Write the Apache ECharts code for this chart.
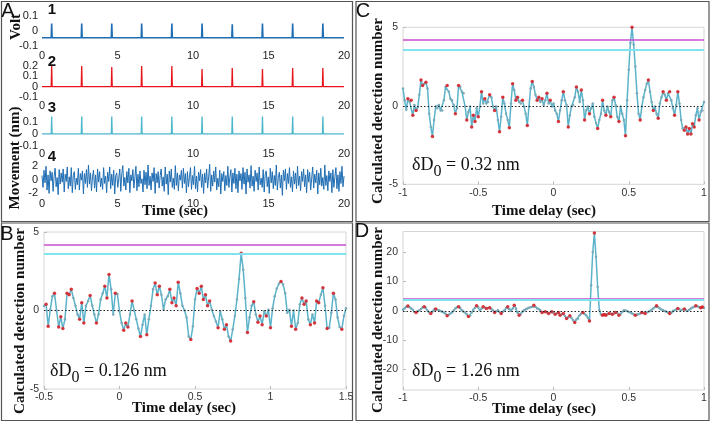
<!DOCTYPE html>
<html>
<head>
<meta charset="utf-8">
<script src="https://cdn.jsdelivr.net/npm/echarts@6/dist/echarts.min.js"></script>
<style>
  html, body { margin: 0; padding: 0; background: #fff; }
  #chart { width: 711px; height: 422px; }
</style>
</head>
<body>
<div id="chart"></div>
<script>
// ---- data ----
const spikeTimes = [0.64, 2.63, 4.62, 6.6, 8.6, 10.6, 12.6, 14.6, 16.6, 18.6]
const volt1Base = -0.045
const volt1Peaks = [0.05, 0.05, 0.05, 0.05, 0.05, 0.05, 0.045, 0.05, 0.05, 0.05]
const volt2Peaks = [0.2, 0.2, 0.19, 0.2, 0.2, 0.17, 0.18, 0.17, 0.18, 0.18]
const volt3Peaks = [0.15, 0.15, 0.15, 0.15, 0.15, 0.15, 0.15, 0.15, 0.15, 0.15]

// y ranges and tick labels of the four panel-A traces
const aRanges = [[-0.1, 0.1], [-0.1, 0.2], [-0.1, 0.15], [-2.5, 2.5]]
const aTicks = [[-0.1, 0, 0.1], [-0.1, 0, 0.1, 0.2], [-0.1, 0, 0.1], [-2, 0, 2]]

const movement = [
  0.6,-1.2,1.4,-0.5,2.0,-1.6,0.7,-2.1,1.3,-0.2,1.1,-1.8,0.5,1.7,-1.1,0.3,-2.3,1.5,-0.7,1.0,
  -0.4,1.6,-1.9,0.8,-0.3,1.9,-1.4,0.4,-1.0,1.8,-2.0,0.6,1.2,-1.5,0.2,-0.8,1.7,-1.6,0.9,-0.1,
  1.3,-2.2,0.9,-0.6,1.5,-1.2,2.2,-0.7,1.0,-1.7,0.4,1.4,-1.3,0.7,-1.9,1.6,-0.4,1.2,-1.1,0.2,
  -1.5,1.8,-0.6,0.5,-2.0,1.1,-0.3,1.9,-1.4,0.8,-0.9,1.4,-2.2,0.6,1.0,-1.2,0.1,1.6,-1.8,0.9,
  2.1,-1.0,0.3,-1.6,1.2,-0.5,1.7,-2.0,0.7,-0.2,1.5,-1.3,0.4,2.0,-1.7,0.8,-1.1,1.3,-0.6,0.1,
  -1.9,1.4,-0.8,1.1,-1.4,2.2,-0.9,0.5,-1.6,1.0,-0.3,1.8,-2.1,0.9,-0.5,1.2,-1.3,0.6,1.6,-1.0,
  0.4,-1.8,1.9,-0.7,0.8,-2.3,1.3,-0.4,1.6,-1.2,0.2,-1.5,2.1,-0.9,1.0,-1.7,0.7,-0.1,1.4,-1.3,
  1.7,-0.6,0.9,-2.0,1.2,-1.1,0.3,1.8,-1.5,0.6,-0.8,2.0,-1.4,0.5,-1.9,1.1,-0.2,1.5,-1.2,0.8,
  -2.1,1.0,-0.5,1.6,-1.3,0.4,2.3,-1.8,0.7,-1.0,1.3,-0.4,1.9,-1.6,0.2,-1.1,1.4,-2.2,0.9,-0.3,
  1.2,-1.7,0.6,-0.9,2.0,-1.2,0.3,1.5,-1.9,1.0,-0.6,1.7,-1.4,0.8,-2.0,1.3,-0.2,0.9,-1.5,1.8,
  -0.7,1.1,-2.2,1.6,-0.4,0.7,-1.3,2.1,-1.0,0.5,-1.8,1.4,-0.3,1.0,-1.6,1.9,-0.8,0.2,-1.2,1.5,
  -1.9,0.8,1.3,-1.1,0.4,-2.1,1.7,-0.5,1.2,-1.4,0.6,-0.9,2.2,-1.6,0.3,1.1,-1.3,0.7,-2.4,1.4,
  -0.2,1.6,-1.5,0.9,-0.6,1.8,-1.2,0.4,-1.9,1.3,-0.7,1.0,-1.4,2.0,-0.9,0.5,-1.7,1.2,-0.3,1.6,
  -1.1,0.7,-2.0,1.5,-0.4,1.1,-1.6,0.2,1.9,-1.3,0.8,-0.5,1.4,-2.2,1.0,-0.8,1.7,-1.0,0.3,-1.5,
  2.2,-0.9,0.6,-1.7,1.3,-0.3,1.0,-2.0,1.5,-1.2,0.4,1.8,-1.4,0.7,-1.8,1.2,-0.6,2.0,-1.1,0.5
]

// detection number vs time delay, panel B (-0.5 .. 1.5 s)
const detectB = [
  0.28,0.4,-1.0,0.05,0.9,1.1,0,-1.05,-0.4,-1.15,
  -0.55,1.1,1.0,1.35,0.8,0.3,-0.25,-0.55,0.5,-0.8,
  0.3,0.6,0.95,0.3,-0.25,-0.8,-0.25,0.7,1.1,1.55,
  0.8,2.3,1.35,-0.25,1.1,1.05,-0.05,-0.8,-1.25,-0.8,
  -1.05,-0.25,0.6,0,-0.55,-1.15,-1.65,-0.9,-0.25,-1.55,
  -0.55,0.3,1.35,1.75,1.0,1.55,1.0,0.05,0.7,0.9,
  1.35,0.5,0.8,0.3,1.8,1.1,0.3,0,
  -0.45,-1.65,-1.85,-1.0,0.7,1.4,1.1,1.55,0.7,1.0,
  0.3,0.6,0.05,-0.35,-0.7,-1.1,-0.05,-0.55,-1.2,-0.9,
  -1.65,-1.95,-1.2,-0.35,0.7,2.0,3.65,2.6,0.8,-1.4,
  -0.45,0.3,0.55,-0.25,-0.75,-0.35,-0.9,-0.05,-0.35,0.05,
  -1.1,0.15,0.9,1.4,1.7,1.85,1.65,1.1,-0.15,0.05,
  -1.0,0,-1.2,-0.8,0.4,0.8,0.4,0.6,-0.55,-0.9,
  -0.25,-0.8,0.6,0.5,1.0,1.45,0.3,-1.15,-1.1,-0.15,
  1.1,0.7,-0.45,-1.05,-1.2,-0.35,0.15
]

// panel C (-1 .. 1 s)
const detectC = [
  1.1,0.35,-0.25,0.45,0.25,0.35,-0.6,0.05,-0.3,-0.1,
  0.7,1.65,1.3,1.4,1.5,1.1,-0.5,-1.35,-1.95,-0.9,
  -0.05,-0.15,0.05,-0.3,-0.3,0.35,1.2,1.3,0.9,0.45,
  0.35,0.05,-0.5,-0.15,1.3,1.2,0.9,0.8,-0.05,-0.9,
  -0.4,-0.05,-1.35,-0.6,-1.0,-0.15,-0.7,-0.05,0.9,0.15,
  0.45,0.15,0.25,0.7,0.55,-0.05,-0.3,-0.05,-0.9,-1.65,
  -0.7,0.55,0.15,-0.5,-0.9,-1.4,0.15,1.4,1.0,0.35,
  0.55,0.25,0.15,0.35,-0.05,-0.5,-1.25,-0.05,1.1,1.55,
  1.2,0.7,0.35,0.55,0.25,0.45,0.05,0.35,0.8,0.15,
  0.35,-0.05,0.15,
  -0.3,-0.5,-1.0,-0.3,0.35,0.9,0.35,0.05,-1.35,-0.6,
  -0.05,0.05,0.55,1.2,0.9,0.25,1.0,0.35,-0.9,-0.3,
  -0.05,-0.5,-0.15,0.15,-0.7,-1.1,-1.45,-0.9,-0.5,0.35,
  -0.3,-0.6,-0.05,-0.4,-0.7,0.35,0.55,0.05,-0.7,-1.0,
  -0.05,-0.5,-0.9,-1.9,0.35,2.3,4.0,5.0,3.9,2.5,
  0.8,-0.5,-0.9,-0.05,0.55,1.0,1.4,1.65,0.9,0.25,
  -0.3,-0.05,-0.5,-0.8,0.15,0.55,0.9,0.7,0.35,0.8,
  0.9,0.35,-0.15,-0.6,0.05,0.9,0.15,-0.9,-1.45,-1.55,
  -1.35,-1.8,-1.45,-1.8,-1.15,-1.35,-0.6,-0.15,-0.9,-0.4,
  -0.3,0.25
]

// panel D (-1 .. 1 s)
const detectD = [
  0.3,0.8,1.4,1.6,1.2,0.8,0.3,-0.4,-0.6,-0.2,
  0.2,0.6,1.2,1.4,0.9,0.1,-0.6,-0.9,-0.3,0.4,
  0.6,0.3,0.2,-0.1,-0.3,-0.6,-1.0,-1.7,-1.4,-0.9,
  -0.6,0.1,0.8,1.2,1.4,0.9,0.2,-0.3,-0.6,-1.2,
  -2.0,-1.6,-0.6,0.3,1.0,1.7,1.2,0.2,0.8,1.4,
  1.1,0.8,0.9,1.0,0.6,0.2,-0.6,-0.2,0.2,-0.4,
  -0.9,-0.3,0.2,0.9,1.4,0.6,-0.1,0.7,1.9,0.8,
  -0.6,-1.5,-1.1,-0.3,0.2,0.5,0.8,1.0,1.2,1.4,
  1.9,1.3,0.8,0.6,0.2,-0.6,-0.4,-0.3,-0.6,-0.9,
  -0.6,-0.3,-0.6,
  -1.2,-0.9,-0.6,-1.5,-1.2,-0.9,-1.8,-2.6,-2.2,-1.7,
  -2.5,-3.2,-4.0,-3.0,-2.6,-1.5,-0.9,-0.6,-1.1,-1.5,
  -2.4,-3.5,
  8.7,20,26.5,18.3,8.1,0.2,
  -1.2,-1.5,-1.3,-1.5,-1.1,-0.9,-1.0,-1.2,-0.9,-0.6,
  -0.8,-1.5,-1.1,-0.4,0.2,0.1,-0.1,-0.4,-0.6,-0.9,
  -1.2,-1.5,-1.3,-1.2,-0.9,-0.6,-0.8,-0.9,-0.6,-0.3,
  -0.1,0.3,0.8,1.3,1.7,1.2,0.8,0.4,0.2,-0.1,
  -0.3,-0.6,-0.9,-0.7,-0.1,0.2,0.3,0.8,0.5,0.2,
  0.4,0.6,0.2,-0.1,0.3,0.8,1.1,1.4,1.7,1.5,
  1.2,1.0,1.3,1.0
]

const thresholds = [4.2, 3.6]
const deltaLabels = ['0.126', '0.32', '1.26']

// ---- helpers ----
const sampled = (start, end, vals) => {
  const step = (end - start) / (vals.length - 1)
  return vals.map((v, i) => [start + i * step, v])
}

const spikeTrain = (base, peaks) => {
  const pts = [[0, base]]
  spikeTimes.forEach((t, i) => {
    pts.push([t - 0.03, base], [t, peaks[i]], [t + 0.03, base])
  })
  pts.push([20, base])
  return pts
}

const extrema = (pts) => pts.filter((p, i) => {
  if (i === 0 || i === pts.length - 1 || Math.abs(p[1]) < 0.3) return false
  const a = pts[i - 1][1], b = pts[i + 1][1]
  return (p[1] > a && p[1] > b) || (p[1] < a && p[1] < b)
})

const SANS = '"Liberation Sans", Arial, sans-serif'
const SERIF = '"Liberation Serif", "Times New Roman", serif'

const grids = [
  { left: 42, top: 16, width: 302, height: 30 },
  { left: 42, top: 66, width: 302, height: 31 },
  { left: 42, top: 116.5, width: 302, height: 29 },
  { left: 42, top: 163, width: 302, height: 33 },
  { left: 44, top: 232, width: 302, height: 157 },
  { left: 403, top: 27.3, width: 301, height: 157 },
  { left: 403, top: 231.5, width: 301, height: 158.5 }
].map((g, i) => ({
  ...g,
  outerBoundsMode: 'none',
  show: i >= 4,
  borderColor: '#d6d6d6',
  borderWidth: 1
}))

const aLabel = { fontSize: 11, color: '#222', fontFamily: SANS }
const dLabel = { fontSize: 10.5, color: '#333', fontFamily: SANS, showMinLabel: true, showMaxLabel: true }
const noLine = { show: false, onZero: false }
const noTick = { show: false }
const inTick = { show: true, inside: true, length: 3, lineStyle: { color: '#bbb' } }

const xAxes = [
  ...[4, 3, 3, 2].map((m, i) => ({
    gridIndex: i, type: 'value', position: 'bottom', min: 0, max: 20, interval: 5,
    axisLine: noLine, axisTick: noTick, splitLine: { show: false },
    axisLabel: { ...aLabel, margin: m }
  })),
  { gridIndex: 4, type: 'value', min: -0.5, max: 1.5, interval: 0.5 },
  { gridIndex: 5, type: 'value', min: -1, max: 1, interval: 0.5 },
  { gridIndex: 6, type: 'value', min: -1, max: 1, interval: 0.5 }
].map((ax, i) => i < 4 ? ax : {
  ...ax, position: 'bottom', axisLine: noLine, axisTick: inTick, splitLine: { show: false },
  axisLabel: { ...dLabel, margin: 3 }
})

const yAx = (gi, min, max, ticks) => ({
  gridIndex: gi, type: 'value', position: 'left', min, max,
  axisLine: noLine, splitLine: { show: false },
  axisTick: { ...inTick, customValues: ticks },
  axisLabel: { ...dLabel, margin: 5, customValues: ticks }
})

// panel A: one data axis per trace (no labels) plus one label axis per tick,
// so ECharts never drops a crowded tick label
const aDataAxes = aRanges.map(([min, max], gi) => ({
  gridIndex: gi, type: 'value', position: 'left', min, max,
  axisLine: noLine, axisTick: noTick, splitLine: { show: false },
  axisLabel: { show: false }
}))
const aLabelAxes = aTicks.flatMap((ticks, gi) => ticks.map((v) => ({
  gridIndex: gi, type: 'value', position: 'left', offset: 0,
  min: aRanges[gi][0], max: aRanges[gi][1],
  axisLine: noLine, axisTick: noTick, splitLine: { show: false },
  axisLabel: { ...aLabel, margin: 4, showMinLabel: true, showMaxLabel: true, customValues: [v] }
})))

const yAxes = [
  ...aDataAxes,
  yAx(4, -5, 5, [-5, 0, 5]),
  yAx(5, -5, 5, [-5, 0, 5]),
  yAx(6, -27, 27, [-20, -10, 0, 10, 20]),
  ...aLabelAxes
]

const simpleLine = (gi, data, color, width) => ({
  type: 'line', xAxisIndex: gi, yAxisIndex: gi, data,
  showSymbol: false, lineStyle: { color, width }, z: 3, silent: true
})

const detectSeries = (gi, data) => [
  {
    type: 'line', xAxisIndex: gi, yAxisIndex: gi, data,
    symbol: 'circle', symbolSize: 2.5, showAllSymbol: true,
    lineStyle: { color: '#5ab3ca', width: 1.5 },
    itemStyle: { color: '#7aa9b8' }, z: 3, silent: true,
    markLine: {
      silent: true, symbol: 'none', label: { show: false }, animation: false,
      data: [
        { yAxis: thresholds[0], lineStyle: { color: '#c64fd0', width: 1.5, type: 'solid' } },
        { yAxis: thresholds[1], lineStyle: { color: '#7fe4ee', width: 2, type: 'solid' } },
        { yAxis: 0, lineStyle: { color: '#222', width: 1, type: [1.5, 2] } }
      ]
    }
  },
  {
    type: 'scatter', xAxisIndex: gi, yAxisIndex: gi, data: extrema(data),
    symbolSize: 3.5, itemStyle: { color: '#e3161b' }, z: 4, silent: true
  }
]

const bData = sampled(-0.5, 1.5, detectB)
const cData = sampled(-1, 1, detectC)
const dData = sampled(-1, 1, detectD)

const series = [
  simpleLine(0, spikeTrain(volt1Base, volt1Peaks), '#1f6db3', 1.6),
  simpleLine(1, spikeTrain(0, volt2Peaks), '#e8141b', 1.3),
  simpleLine(2, spikeTrain(0, volt3Peaks), '#4cb6cc', 1.3),
  simpleLine(3, sampled(0, 20, movement), '#1f6db3', 1),
  ...detectSeries(4, bData),
  ...detectSeries(5, cData),
  ...detectSeries(6, dData)
]

// ---- frames and titles ----
const frame = (x, y, w, h) => ({
  type: 'rect', silent: true, shape: { x, y, width: w, height: h },
  style: { fill: 'none', stroke: '#555', lineWidth: 1.2 }
})

const txt = (x, y, text, font, rot) => ({
  type: 'text', x, y, rotation: rot || 0, silent: true,
  style: { text, font, fill: '#111', align: 'center', verticalAlign: 'middle' }
})

const delta = (x, y, val) => ({
  type: 'text', x, y, silent: true,
  style: {
    text: '{a|δD}{s|0}{a| = ' + val + ' nm}',
    align: 'left', verticalAlign: 'middle',
    rich: {
      a: { fontFamily: SERIF, fontSize: 18, fill: '#111' },
      s: { fontFamily: SERIF, fontSize: 16, fill: '#111', padding: [14, 0, 0, 0] }
    }
  }
})

const TITLE = 'bold 15px ' + SERIF
const UP = Math.PI / 2

const graphic = [
  frame(1.5, 1.5, 351, 220),
  frame(356, 1.5, 353, 220),
  frame(1.5, 223, 351, 197.5),
  frame(356, 223, 353, 197.5),
  txt(8, 11, 'A', '20px ' + SANS),
  txt(7, 234, 'B', '20px ' + SANS),
  txt(363, 11, 'C', '20px ' + SANS),
  txt(362, 231, 'D', '20px ' + SANS),
  txt(52, 10, '1', 'bold 15px ' + SANS),
  txt(52, 62, '2', 'bold 15px ' + SANS),
  txt(52, 108, '3', 'bold 15px ' + SANS),
  txt(52, 157, '4', 'bold 15px ' + SANS),
  txt(16, 27, 'Volt', TITLE, UP),
  txt(15, 158, 'Movement (nm)', TITLE, UP),
  txt(175, 211, 'Time (sec)', TITLE),
  txt(20, 321, 'Calculated detection number', TITLE, UP),
  txt(378, 111, 'Calculated detection number', TITLE, UP),
  txt(378, 320, 'Calculated detection number', TITLE, UP),
  txt(184, 408, 'Time delay (sec)', TITLE),
  txt(544, 211, 'Time delay (sec)', TITLE),
  txt(544, 409, 'Time delay (sec)', TITLE),
  delta(50, 371, deltaLabels[0]),
  delta(412, 165, deltaLabels[1]),
  delta(412, 371, deltaLabels[2])
]

const chart = echarts.init(document.getElementById('chart'))
chart.setOption({
  animation: false,
  backgroundColor: '#fff',
  grid: grids,
  xAxis: xAxes,
  yAxis: yAxes,
  series,
  graphic
})
</script>
</body>
</html>
